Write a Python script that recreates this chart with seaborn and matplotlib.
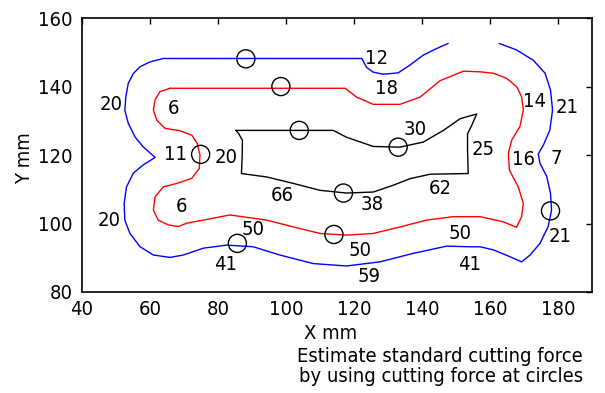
import matplotlib
matplotlib.use("Agg")
import matplotlib.pyplot as plt
import seaborn as sns

sns.set_style("white")
plt.rcParams['font.family'] = ['DejaVu Sans']
plt.rcParams['font.stretch'] = 'condensed'
plt.rcParams['text.color'] = 'black'
plt.rcParams['axes.labelcolor'] = 'black'
plt.rcParams['xtick.color'] = 'black'
plt.rcParams['ytick.color'] = 'black'

# Outer (blue) path
blue_x = [147.7, 144.3, 140.4, 136.5, 133.0, 128.6, 125.7, 123.7, 122.3,
          63.9, 60.0, 57.1, 55.1, 53.6, 52.9, 52.6, 53.6, 55.6, 58.0, 61.5, 58.0, 55.1, 53.1, 52.4, 52.6,
          54.1, 57.1, 61.0, 65.9, 69.8, 75.7, 82.6, 90.4, 98.2, 108.0, 117.8, 127.6, 137.5, 147.3, 154.1,
          157.1, 161.0, 165.9, 169.3, 171.8, 174.7, 177.1, 178.1, 177.8, 176.7, 174.7, 174.2, 175.7, 177.6,
          178.4, 177.8, 176.2, 172.7, 167.8, 162.7]
blue_y = [152.6, 151.1, 149.2, 146.3, 144.0, 143.6, 144.2, 145.6, 148.2,
          148.2, 147.2, 145.8, 143.8, 140.9, 137.0, 133.1, 129.3, 125.3, 122.4, 119.3, 117.1, 114.7, 110.7, 105.9, 101.0,
          97.1, 93.2, 90.8, 90.1, 90.8, 92.8, 93.7, 93.2, 90.8, 88.3, 87.6, 88.8, 91.3, 93.4, 93.2,
          93.2, 92.3, 90.3, 88.8, 90.8, 94.2, 99.1, 103.9, 108.8, 113.7, 117.6, 120.3, 122.9, 127.3,
          133.1, 139.0, 143.9, 147.7, 150.7, 152.6]

# Middle (red) path
red_x = [65.9, 117.4, 120.8, 125.7, 133.5, 139.4, 145.3, 152.2, 157.1, 161.0, 164.9, 167.9, 169.3, 169.8,
         168.8, 166.4, 165.4, 165.7, 168.3, 169.8, 169.3, 167.8, 163.9, 157.1, 149.2, 141.4, 133.5, 125.7,
         117.8, 110.0, 102.2, 94.3, 83.5, 75.7, 70.8, 68.3, 65.4, 62.4, 61.0, 61.5, 63.9, 67.9, 72.3, 74.5,
         74.7, 73.9, 72.3, 68.8, 64.4, 62.0, 61.0, 61.5, 62.9, 65.9]
red_y = [139.5, 139.5, 136.9, 134.8, 134.8, 136.9, 141.7, 144.5, 144.3, 143.9, 142.4, 139.9, 137.0, 133.1,
         128.3, 124.4, 120.5, 115.6, 110.7, 105.9, 102.0, 98.9, 100.5, 102.0, 102.0, 101.0, 99.0, 97.1,
         96.6, 97.1, 99.0, 101.0, 102.5, 101.0, 100.1, 99.1, 99.6, 101.0, 103.9, 107.8, 110.7, 111.7, 113.2, 116.1,
         120.0, 123.4, 125.8, 127.1, 127.8, 130.2, 133.1, 136.1, 138.5, 139.5]

# Inner (black) path
black_x = [85.3, 113.9, 117.8, 125.7, 133.5, 140.4, 146.3, 151.2, 156.1, 154.6, 153.4, 153.4, 153.6,
           142.4, 136.5, 131.6, 125.7, 117.8, 110.0, 102.2, 94.3, 86.9, 87.1, 87.2, 86.0, 85.3]
black_y = [127.2, 127.2, 125.2, 122.5, 122.3, 123.8, 127.2, 130.6, 132.0, 128.6, 126.2, 121.4, 114.6,
           114.4, 113.1, 111.2, 109.2, 108.9, 109.7, 111.7, 113.6, 114.6, 119.4, 124.3, 126.4, 127.2]

# Measurement circles
circle_x = [88.2, 98.5, 103.9, 133.0, 116.9, 114.1, 85.7, 74.9, 177.8]
circle_y = [148.1, 140.0, 127.2, 122.3, 108.9, 96.8, 94.2, 120.2, 103.7]

# Force labels
label_text = ["12", "18", "20", "6", "11", "20", "30", "25", "14", "21", "16", "7",
              "66", "38", "62", "6", "20", "50", "50", "50", "41", "59", "41", "21"]
label_x = [126.5, 129.5, 48.7, 66.9, 67.4, 82.5, 137.9, 158.0, 173.2, 182.7, 169.8, 179.6,
           99.0, 125.5, 145.3, 69.3, 48.0, 90.4, 121.8, 151.2, 82.1, 124.5, 154.1, 180.6]
label_y = [148.3, 139.3, 134.8, 133.5, 120.2, 119.2, 127.4, 121.7, 135.6, 134.0, 118.6, 118.9,
           108.3, 105.6, 110.2, 105.1, 100.8, 98.3, 92.2, 97.1, 87.9, 84.5, 87.9, 96.3]

x_ticks = [40, 60, 80, 100, 120, 140, 160, 180]
y_ticks = [80, 100, 120, 140, 160]

FS = 14.5
fig = plt.figure(figsize=(6.05, 3.93), dpi=100)
ax = fig.add_axes([0.1355, 0.257, 0.843, 0.697])

sns.lineplot(x=blue_x, y=blue_y, sort=False, estimator=None, color="#0000ff", lw=1.0, ax=ax)
sns.lineplot(x=red_x, y=red_y, sort=False, estimator=None, color="#ff0000", lw=1.0, ax=ax)
sns.lineplot(x=black_x, y=black_y, sort=False, estimator=None, color="black", lw=1.0, ax=ax)
sns.scatterplot(x=circle_x, y=circle_y, s=170, facecolors="none", edgecolor="black", linewidth=1.0, ax=ax, zorder=5)

for t, x, y in zip(label_text, label_x, label_y):
    ax.text(x, y, t, ha="center", va="center", fontsize=FS, color="black")

ax.set_xlim(40, 190)
ax.set_ylim(80, 160)
ax.set_xticks(x_ticks)
ax.set_yticks(y_ticks)
ax.tick_params(direction="in", top=True, right=True, length=4, labelsize=FS, width=1)
ax.tick_params(axis="x", pad=5.5)
ax.tick_params(axis="y", pad=6.5)
for s in ax.spines.values():
    s.set_color("black")
    s.set_linewidth(1.2)
ax.set_xlabel("X mm", fontsize=FS, va="center")
ax.xaxis.set_label_coords(0.488, -0.15)
ax.set_ylabel("Y mm", fontsize=FS, va="center")
ax.yaxis.set_label_coords(-0.112, 0.49)

fig.text(0.727, 0.0924, "Estimate standard cutting force", ha="center", va="center", fontsize=FS, color="black")
fig.text(0.729, 0.0415, "by using cutting force at circles", ha="center", va="center", fontsize=FS, color="black")

fig.savefig("out.png", dpi=100)
